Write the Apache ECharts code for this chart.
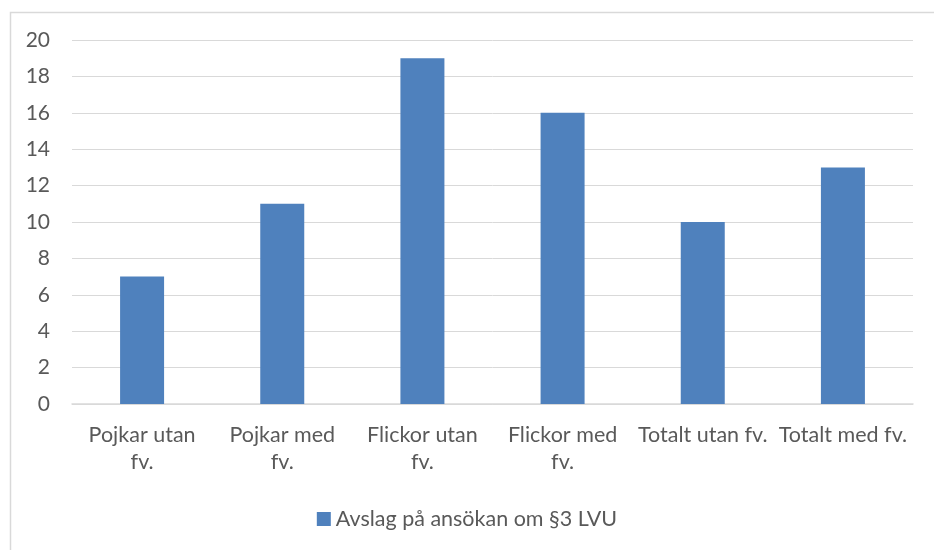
<!DOCTYPE html>
<html>
<head>
<meta charset="utf-8">
<script src="https://cdn.jsdelivr.net/npm/echarts@6/dist/echarts.min.js"></script>
<style>
  html, body { margin: 0; padding: 0; background: #fff; }
  #main { width: 934px; height: 550px; }
</style>
</head>
<body>
<div id="main"></div>
<script>
const categories = [
  "Pojkar utan\nfv.",
  "Pojkar med\nfv.",
  "Flickor utan\nfv.",
  "Flickor med\nfv.",
  "Totalt utan fv.",
  "Totalt med fv."
];
const values = [7, 11, 19, 16, 10, 13];
const seriesName = "Avslag på ansökan om §3 LVU";

const chart = echarts.init(document.getElementById("main"));

const option = {
  animation: false,
  textStyle: { fontFamily: "Lato, 'Noto Sans', sans-serif" },
  graphic: [
    {
      type: "rect",
      left: 8,
      top: 10,
      shape: { width: 940, height: 560 },
      style: { fill: "none", stroke: "#d9d9d9", lineWidth: 1.5 },
      silent: true
    }
  ],
  grid: {
    left: 72,
    right: 21,
    top: 40,
    bottom: 146
  },
  legend: {
    bottom: 15,
    left: "center",
    icon: "rect",
    itemWidth: 14,
    itemHeight: 14,
    itemGap: 6,
    textStyle: { fontSize: 21.5, color: "#595959", fontFamily: "Lato, 'Noto Sans', sans-serif" },
    data: [seriesName]
  },
  xAxis: {
    type: "category",
    data: categories,
    axisLine: { show: true, lineStyle: { color: "#d9d9d9", width: 1.5 } },
    axisTick: { show: false },
    axisLabel: {
      color: "#595959",
      fontSize: 21.5,
      lineHeight: 27,
      margin: 18,
      interval: 0
    }
  },
  yAxis: {
    type: "value",
    min: 0,
    max: 20,
    interval: 2,
    axisLine: { show: false },
    axisTick: { show: false },
    splitLine: { lineStyle: { color: "#d9d9d9", width: 1 } },
    axisLabel: { color: "#595959", fontSize: 21, margin: 22 }
  },
  series: [
    {
      name: seriesName,
      type: "bar",
      data: values,
      barWidth: 44,
      itemStyle: { color: "#4f81bd" }
    }
  ]
};

chart.setOption(option);
</script>
</body>
</html>
